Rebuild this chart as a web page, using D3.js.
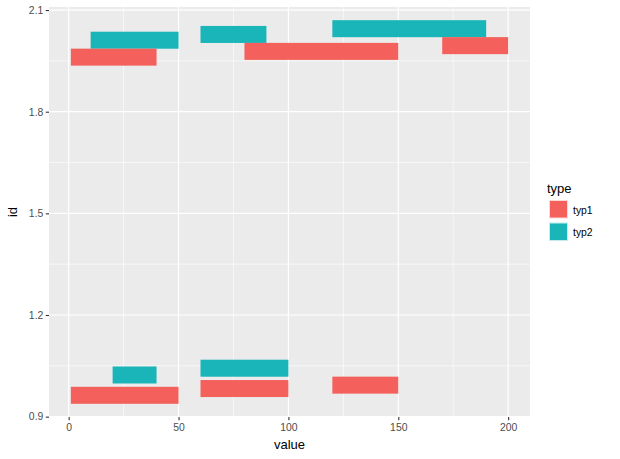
<!DOCTYPE html>
<html><head><meta charset="utf-8">
<script src="https://cdn.jsdelivr.net/npm/d3@7"></script>
<style>body{margin:0;background:#fff}svg{display:block}text{font-family:"Liberation Sans",Arial,sans-serif}</style>
</head><body>
<script>
// data: each segment has a type, a start value, an end value and an id position
const segType  = ["typ2","typ1","typ2","typ1","typ2","typ1","typ2","typ1","typ2","typ1","typ1"];
const segStart = [10, 1, 60, 80, 120, 170, 20, 1, 60, 60, 120];
const segEnd   = [50, 40, 90, 150, 190, 200, 40, 50, 100, 100, 150];
const segId    = [2.011, 1.961, 2.028, 1.978, 2.045, 1.995, 1.023, 0.963, 1.043, 0.983, 0.993];
const xTicks = [0, 50, 100, 150, 200];
const yTicks = [0.9, 1.2, 1.5, 1.8, 2.1];
const xMinor = [25, 75, 125, 175];
const yMinor = [1.05, 1.35, 1.65, 1.95];
const types = ["typ1","typ2"];
const typeColors = ["#F4615C","#19B5B8"];

const W = 620, H = 459;
const P = {l:49, r:530, t:7, b:417};
const svg = d3.select("body").append("svg").attr("width",W).attr("height",H);

const x = d3.scaleLinear().domain([-8.95, 209.95]).range([P.l, P.r]);
const y = d3.scaleLinear().domain([0.899, 2.109]).range([P.b, P.t]);
const color = d3.scaleOrdinal().domain(types).range(typeColors);

svg.append("rect").attr("x",P.l).attr("y",P.t).attr("width",P.r-P.l).attr("height",P.b-P.t).attr("fill","#EBEBEB");

const g = svg.append("g");
g.selectAll(".xmin").data(xMinor).enter().append("line")
  .attr("x1",d=>x(d)).attr("x2",d=>x(d)).attr("y1",P.t).attr("y2",P.b)
  .attr("stroke","#fff").attr("stroke-width",0.6);
g.selectAll(".ymin").data(yMinor).enter().append("line")
  .attr("y1",d=>y(d)).attr("y2",d=>y(d)).attr("x1",P.l).attr("x2",P.r)
  .attr("stroke","#fff").attr("stroke-width",0.6);
g.selectAll(".xmaj").data(xTicks).enter().append("line")
  .attr("x1",d=>x(d)).attr("x2",d=>x(d)).attr("y1",P.t).attr("y2",P.b)
  .attr("stroke","#fff").attr("stroke-width",1.2);
g.selectAll(".ymaj").data(yTicks).enter().append("line")
  .attr("y1",d=>y(d)).attr("y2",d=>y(d)).attr("x1",P.l).attr("x2",P.r)
  .attr("stroke","#fff").attr("stroke-width",1.2);

const segs = segType.map((t,i)=>({type:t, x0:segStart[i], x1:segEnd[i], id:segId[i]}));
const thick = 17;
svg.append("g").selectAll("rect").data(segs).enter().append("rect")
  .attr("x",d=>x(d.x0)).attr("width",d=>x(d.x1)-x(d.x0))
  .attr("y",d=>y(d.id)-thick/2).attr("height",thick)
  .attr("fill",d=>color(d.type));

// axes
const xAxis = d3.axisBottom(x).tickValues(xTicks).tickSize(3.2).tickPadding(3).tickFormat(d3.format("d"));
const xa = svg.append("g").attr("transform",`translate(0,${P.b})`).call(xAxis);
const yAxis = d3.axisLeft(y).tickValues(yTicks).tickSize(3.2).tickPadding(2.5).tickFormat(d3.format(".1f"));
const ya = svg.append("g").attr("transform",`translate(${P.l},0)`).call(yAxis);
[xa,ya].forEach(a=>{
  a.select(".domain").remove();
  a.selectAll("line").attr("stroke","#333").attr("stroke-width",1.1);
  a.selectAll("text").attr("fill","#4D4D4D").style("font-size","10.4px").style("font-family",'"Liberation Sans",Arial,sans-serif');
});

svg.append("text").attr("x",(P.l+P.r)/2).attr("y",448.5).attr("text-anchor","middle")
  .style("font-size","13px").attr("fill","#000").text("value");
svg.append("text").attr("transform",`translate(17,${(P.t+P.b)/2}) rotate(-90)`).attr("text-anchor","middle")
  .style("font-size","13px").attr("fill","#000").text("id");

// legend
const lg = svg.append("g");
lg.append("text").attr("x",547).attr("y",193).style("font-size","13px").text("type");
const items = lg.selectAll(".item").data(types).enter().append("g")
  .attr("transform",(d,i)=>`translate(549,${200+i*22.5})`);
items.append("rect").attr("width",19).attr("height",18.5).attr("fill",d=>color(d)).attr("opacity",0.25);
items.append("rect").attr("x",1).attr("y",1).attr("width",17).attr("height",16.5).attr("fill",d=>color(d));
items.append("text").attr("x",24).attr("y",13.5).style("font-size","10.4px").attr("fill","#000").text(d=>d);
</script>
</body></html>
